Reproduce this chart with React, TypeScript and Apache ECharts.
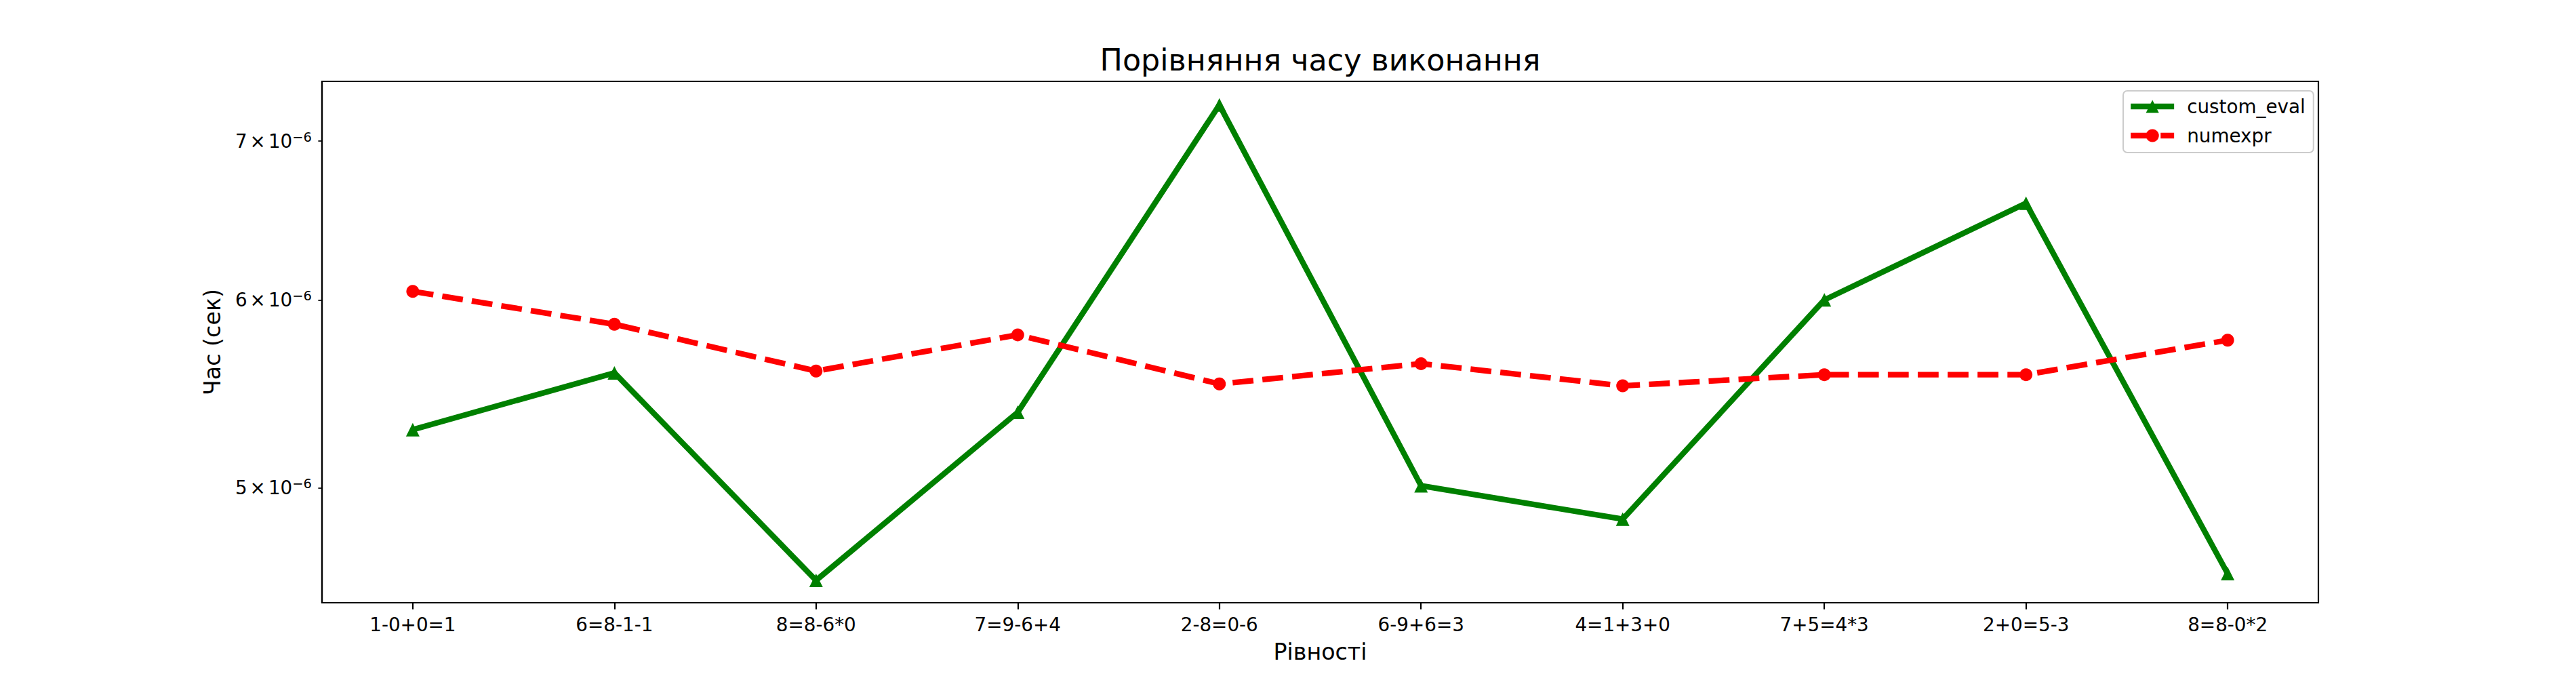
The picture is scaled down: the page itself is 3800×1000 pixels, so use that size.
import { useEffect, useRef } from 'react';
import * as echarts from 'echarts';

// equations on the x axis
const equations = ['1-0+0=1', '6=8-1-1', '8=8-6*0', '7=9-6+4', '2-8=0-6', '6-9+6=3', '4=1+3+0', '7+5=4*3', '2+0=5-3', '8=8-0*2'];

// execution time, seconds
const customEvalTimes = [5.29e-6, 5.59e-6, 4.57e-6, 5.38e-6, 7.25e-6, 5.01e-6, 4.85e-6, 6.0e-6, 6.59e-6, 4.6e-6];
const numexprTimes = [6.05e-6, 5.86e-6, 5.6e-6, 5.8e-6, 5.53e-6, 5.64e-6, 5.52e-6, 5.58e-6, 5.58e-6, 5.77e-6];

// log axis ticks and range
const yTicks = [5e-6, 6e-6, 7e-6];
const yMin = 4.472e-6;
const yMax = 7.418e-6;

const xTicks = equations.map((_, i) => i);

const FONT = 'DejaVu Sans';
const GREEN = '#008000';
const RED = '#ff0000';
const DASH = [30.8, 13.3];

export default function App() {
  const chartRef = useRef<HTMLDivElement>(null);

  useEffect(() => {
    if (!chartRef.current) return;
    document.body.style.margin = '0';

    const chart = echarts.init(chartRef.current, null, { renderer: 'svg' });

    const option: echarts.EChartsOption = {
      animation: false,
      backgroundColor: '#fff',
      textStyle: { fontFamily: FONT, color: '#000' },
      title: {
        text: 'Порівняння часу виконання',
        left: 1947.5,
        top: 66,
        textAlign: 'center',
        padding: 0,
        textStyle: { fontFamily: FONT, fontSize: 44.4, fontWeight: 'normal', color: '#000' },
      },
      legend: {
        orient: 'vertical',
        left: 3132,
        top: 134,
        padding: [9, 12, 11, 7],
        itemWidth: 64,
        itemHeight: 24,
        itemGap: 15,
        backgroundColor: 'rgba(255,255,255,0.8)',
        borderColor: '#cccccc',
        borderWidth: 2,
        borderRadius: 6,
        lineStyle: { width: 8.3 },
        textStyle: { fontFamily: FONT, fontSize: 27.8, color: '#000', padding: [0, 0, 0, 14] },
        data: ['custom_eval', 'numexpr'],
      },
      grid: {
        left: 475,
        right: 380,
        top: 120,
        bottom: 111,
        show: true,
        borderColor: '#000',
        borderWidth: 2.2,
        containLabel: false,
      },
      xAxis: {
        type: 'value',
        min: -0.45,
        max: 9.45,
        name: 'Рівності',
        nameLocation: 'middle',
        nameGap: 56,
        nameTextStyle: { fontFamily: FONT, fontSize: 33.3, color: '#000' },
        axisLine: { show: true, onZero: false, lineStyle: { color: '#000', width: 2.2 } },
        axisTick: { show: true, length: 9.7, lineStyle: { color: '#000', width: 2.2 }, customValues: xTicks },
        axisLabel: {
          customValues: xTicks,
          margin: 18,
          fontFamily: FONT,
          fontSize: 27.8,
          color: '#000',
          formatter: (v: number) => equations[Math.round(v)] ?? '',
        },
        splitLine: { show: false },
      },
      yAxis: {
        type: 'log',
        logBase: 10,
        min: yMin,
        max: yMax,
        name: 'Час (сек)',
        nameLocation: 'middle',
        nameGap: 145,
        nameTextStyle: { fontFamily: FONT, fontSize: 33.3, color: '#000' },
        axisLine: { show: true, onZero: false, lineStyle: { color: '#000', width: 2.2 } },
        axisTick: { show: true, length: 5.6, lineStyle: { color: '#000', width: 1.7 }, customValues: yTicks },
        axisLabel: {
          customValues: yTicks,
          margin: 15,
          fontFamily: FONT,
          fontSize: 27.8,
          color: '#000',
          formatter: (v: number) => `${Math.round(v * 1e6)}{x|×}10{sup|−6}`,
          rich: {
            x: { fontFamily: FONT, fontSize: 27.8, color: '#000', padding: [0, 4, 0, 4] },
            sup: { fontFamily: FONT, fontSize: 19.5, color: '#000', padding: [0, 0, 12, 0] },
          },
        },
        splitLine: { show: false },
        minorTick: { show: false },
      },
      series: [
        {
          name: 'custom_eval',
          type: 'line',
          data: customEvalTimes.map((v, i) => [i, v]),
          symbol: 'triangle',
          symbolSize: 20,
          showAllSymbol: true,
          lineStyle: { color: GREEN, width: 8.3, join: 'round' },
          itemStyle: { color: GREEN },
        },
        {
          name: 'numexpr',
          type: 'line',
          data: numexprTimes.map((v, i) => [i, v]),
          symbol: 'circle',
          symbolSize: 19,
          showAllSymbol: true,
          lineStyle: { color: RED, width: 8.3, type: DASH, cap: 'butt', join: 'round' },
          itemStyle: { color: RED },
        },
      ],
    };

    chart.setOption(option, true);

    return () => {
      chart.dispose();
    };
  }, []);

  return <div ref={chartRef} style={{ width: 3800, height: 1000 }} />;
}
